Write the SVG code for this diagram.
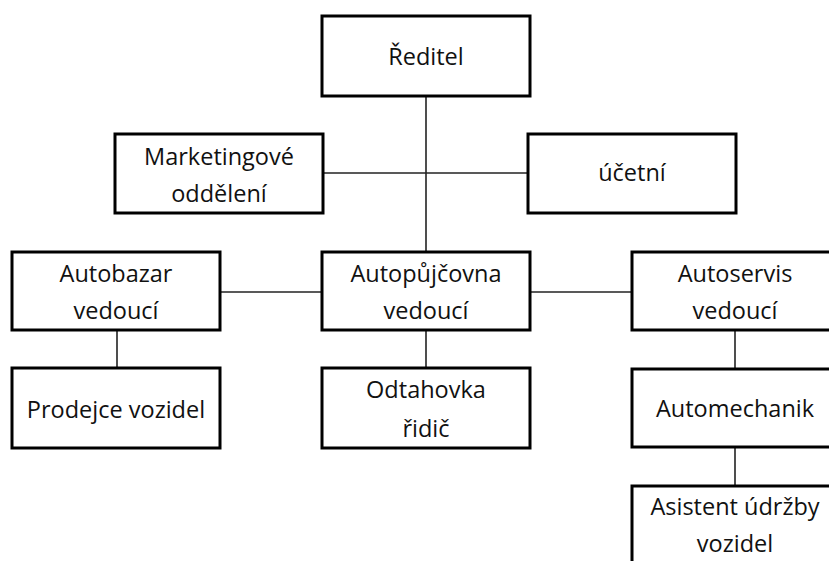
<svg xmlns="http://www.w3.org/2000/svg" width="829" height="561" viewBox="0 0 829 561">
<style>
.box{fill:#fff;stroke:#000;stroke-width:3}
.t{font-family:"Open Sans","Noto Sans",sans-serif;font-size:23.5px;fill:#111;text-anchor:middle}
.c{stroke:#222;stroke-width:1.6;fill:none}
</style>
<rect width="829" height="561" fill="#fff"/>
<g id="connectors">
<line class="c" x1="426" y1="96" x2="426" y2="252"/>
<line class="c" x1="323" y1="173" x2="528" y2="173"/>
<line class="c" x1="220" y1="292" x2="322" y2="292"/>
<line class="c" x1="530" y1="292" x2="632" y2="292"/>
<line class="c" x1="117" y1="330" x2="117" y2="368"/>
<line class="c" x1="426" y1="330" x2="426" y2="368"/>
<line class="c" x1="735" y1="330" x2="735" y2="369"/>
<line class="c" x1="735" y1="447" x2="735" y2="486"/>
</g>
<g id="reditel"><rect class="box" x="322" y="16" width="208" height="80"/><text class="t" x="426" y="65">Ředitel</text></g>
<g id="marketing"><rect class="box" x="115" y="134" width="208" height="79"/><text class="t" x="219" y="165">Marketingové</text><text class="t" x="219" y="202">oddělení</text></g>
<g id="ucetni"><rect class="box" x="528" y="134" width="208" height="79"/><text class="t" x="632" y="181">účetní</text></g>
<g id="autobazar"><rect class="box" x="12" y="252" width="208" height="78"/><text class="t" x="116" y="282">Autobazar</text><text class="t" x="116" y="319">vedoucí</text></g>
<g id="autopujcovna"><rect class="box" x="322" y="252" width="208" height="78"/><text class="t" x="426" y="282">Autopůjčovna</text><text class="t" x="426" y="319">vedoucí</text></g>
<g id="autoservis"><rect class="box" x="632" y="252" width="208" height="78"/><text class="t" x="735" y="282">Autoservis</text><text class="t" x="735" y="319">vedoucí</text></g>
<g id="prodejce"><rect class="box" x="12" y="368" width="208" height="80"/><text class="t" x="116" y="418">Prodejce vozidel</text></g>
<g id="odtahovka"><rect class="box" x="322" y="368" width="208" height="80"/><text class="t" x="426" y="398">Odtahovka</text><text class="t" x="426" y="437">řidič</text></g>
<g id="automechanik"><rect class="box" x="632" y="369" width="208" height="78"/><text class="t" x="735" y="417">Automechanik</text></g>
<g id="asistent"><rect class="box" x="632" y="486" width="208" height="90"/><text class="t" x="735" y="515">Asistent údržby</text><text class="t" x="735" y="552">vozidel</text></g>
</svg>
